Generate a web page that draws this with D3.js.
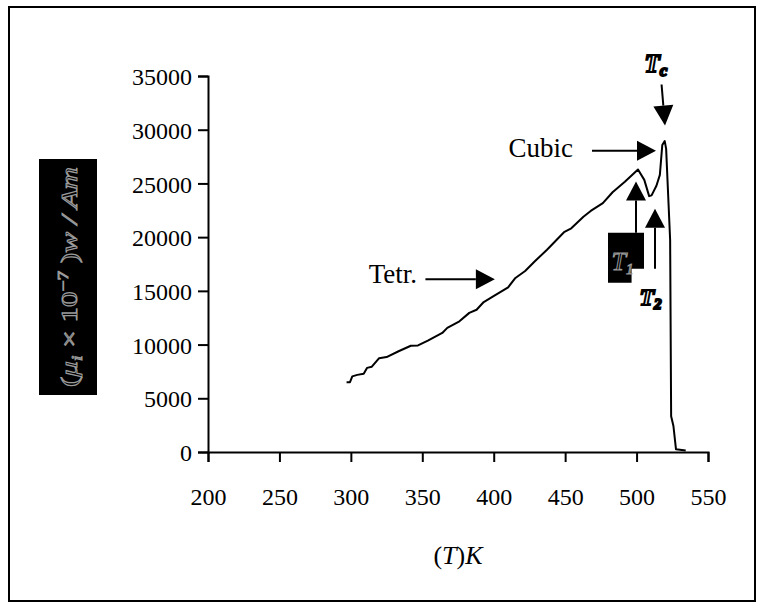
<!DOCTYPE html>
<html>
<head>
<meta charset="utf-8">
<script src="https://cdn.jsdelivr.net/npm/d3@7"></script>
<style>
  html, body { margin: 0; padding: 0; background: #fff; }
  svg { display: block; }
  text { font-family: "Liberation Serif", "Times New Roman", serif; }
</style>
</head>
<body>
<svg id="chart" width="762" height="607"></svg>
<script>
// ---- data ----
const temperature = [297, 299.4, 301, 304.5, 309, 311.3, 314.7, 319.8, 325, 333.4, 342, 347, 353.9, 364, 367.5, 376, 382.9, 388, 393, 399.9, 410.1, 415.2, 422, 428.8, 437.3, 449.2, 454.3, 462.8, 467.9, 476.4, 483.2, 491.8, 501, 505.4, 508.8, 510.5, 513.9, 516.3, 518, 519.7, 520.7, 521.7, 523.5, 524.2, 525.8, 527.6, 534.4];
const permeability = [6500, 6500, 7036, 7180, 7290, 7830, 7940, 8730, 8840, 9380, 9890, 9920, 10360, 11080, 11550, 12160, 12950, 13240, 13960, 14500, 15330, 16200, 16850, 17750, 18830, 20460, 20820, 21900, 22440, 23160, 24180, 25150, 26300, 25330, 23820, 23890, 24790, 25800, 28580, 28940, 28220, 25150, 19740, 3320, 2420, 250, 140];
const xTicks = [200, 250, 300, 350, 400, 450, 500, 550];
const yTicks = [0, 5000, 10000, 15000, 20000, 25000, 30000, 35000];

const svg = d3.select("#chart");
const plot = { left: 208, right: 708, top: 76, bottom: 452 };

const x = d3.scaleLinear().domain([200, 550]).range([plot.left, plot.right]);
const y = d3.scaleLinear().domain([0, 35000]).range([plot.bottom, plot.top]);

// frame
svg.append("rect").attr("x", 9).attr("y", 7).attr("width", 746).attr("height", 594)
  .attr("fill", "#fff").attr("stroke", "#000").attr("stroke-width", 2);

// axes
const xAxis = d3.axisBottom(x).tickValues(xTicks).tickSize(10).tickPadding(26).tickFormat(d3.format("d"));
const yAxis = d3.axisLeft(y).tickValues(yTicks).tickSize(10).tickPadding(6).tickFormat(d3.format("d"));

const gx = svg.append("g").attr("transform", `translate(0,${plot.bottom})`).call(xAxis);
const gy = svg.append("g").attr("transform", `translate(${plot.left},0)`).call(yAxis);
[gx, gy].forEach(g => {
  g.select(".domain").attr("stroke", "#000").attr("stroke-width", 2);
  g.selectAll(".tick line").attr("stroke", "#000").attr("stroke-width", 2);
  g.selectAll(".tick text").attr("fill", "#000").style("font-family", "Liberation Serif, Times New Roman, serif").style("font-size", "24px");
});
gy.selectAll(".tick text").attr("dy", "0.36em");

// data line
const line = d3.line().x((d, i) => x(temperature[i])).y(d => y(d));
svg.append("path").datum(permeability).attr("d", line)
  .attr("fill", "none").attr("stroke", "#000").attr("stroke-width", 2).attr("stroke-linejoin", "round");

// x title
const xt = svg.append("text").attr("x", (plot.left + plot.right) / 2).attr("y", 564)
  .attr("text-anchor", "middle").style("font-size", "26px");
xt.append("tspan").text("(");
xt.append("tspan").style("font-style", "italic").text("T");
xt.append("tspan").text(")");
xt.append("tspan").style("font-style", "italic").text("K");

// y title (black box with outlined grey text)
svg.append("rect").attr("x", 39).attr("y", 159).attr("width", 58).attr("height", 236).attr("fill", "#000");
const yt = svg.append("text").attr("transform", "translate(77,277) rotate(-90)")
  .attr("text-anchor", "middle").style("font-size", "24px")
  .attr("fill", "#000").attr("stroke", "#9a9a9a").attr("stroke-width", 1)
  .attr("textLength", 220).attr("lengthAdjust", "spacingAndGlyphs");
yt.append("tspan").text("(");
yt.append("tspan").style("font-style", "italic").text("μ");
yt.append("tspan").attr("dy", 5).style("font-size", "15px").style("font-style", "italic").text("i");
yt.append("tspan").attr("dy", -5).text(" × 10");
yt.append("tspan").attr("dy", -9).style("font-size", "15px").text("−7");
yt.append("tspan").attr("dy", 9).text(" )");
yt.append("tspan").style("font-style", "italic").text("w / Am");

// arrow helper
function arrow(x1, y1, x2, y2, headLen, headHalf) {
  const ang = Math.atan2(y2 - y1, x2 - x1);
  const bx = x2 - headLen * Math.cos(ang), by = y2 - headLen * Math.sin(ang);
  svg.append("line").attr("x1", x1).attr("y1", y1).attr("x2", bx).attr("y2", by)
    .attr("stroke", "#000").attr("stroke-width", 2);
  const px = -Math.sin(ang) * headHalf, py = Math.cos(ang) * headHalf;
  svg.append("path").attr("d", `M${x2},${y2}L${bx + px},${by + py}L${bx - px},${by - py}Z`).attr("fill", "#000");
}

// Tetr. annotation
svg.append("text").attr("x", x(346.3)).attr("y", y(15750)).attr("text-anchor", "end").style("font-size", "27px").text("Tetr.");
arrow(x(352.2), y(16080), x(400.8), y(16080), 19, 10);

// Cubic annotation
svg.append("text").attr("x", x(455.5)).attr("y", y(27500)).attr("text-anchor", "end").style("font-size", "27px").text("Cubic");
arrow(x(468.8), y(28050), x(513.6), y(28050), 19, 10);

// Tc annotation
const tc = svg.append("text").attr("x", x(513.6)).attr("y", y(35400)).attr("text-anchor", "middle")
  .style("font-size", "25px").style("font-style", "italic").style("font-weight", "bold")
  .attr("fill", "#fff").attr("stroke", "#000").attr("stroke-width", 2);
tc.append("tspan").text("T");
tc.append("tspan").attr("dy", 4).style("font-size", "17px").text("c");
arrow(x(517.5), y(34210), x(519.9), y(30390), 20, 10);

// T1 annotation (black box)
svg.append("path").attr("fill", "#000")
  .attr("d", `M${x(480)},${y(20410)}H${x(505.2)}V${y(17060)}H${x(496.5)}V${y(15750)}H${x(480)}Z`);
const t1 = svg.append("text").attr("x", x(482.5)).attr("y", y(16900)).attr("text-anchor", "start")
  .style("font-size", "26px").style("font-style", "italic")
  .attr("fill", "#000").attr("stroke", "#9a9a9a").attr("stroke-width", 1);
t1.append("tspan").text("T");
t1.append("tspan").attr("dy", 4).style("font-size", "15px").text("1");
arrow(x(499.6), y(20410), x(499.6), y(25170), 19, 10);

// T2 annotation
arrow(x(512.9), y(17060), x(512.9), y(22650), 19, 10);
const t2 = svg.append("text").attr("x", x(502)).attr("y", y(13700)).attr("text-anchor", "start")
  .style("font-size", "24px").style("font-style", "italic").style("font-weight", "bold")
  .attr("fill", "#fff").attr("stroke", "#000").attr("stroke-width", 2);
t2.append("tspan").text("T");
t2.append("tspan").attr("dy", 4).style("font-size", "15px").text("2");
</script>
</body>
</html>
